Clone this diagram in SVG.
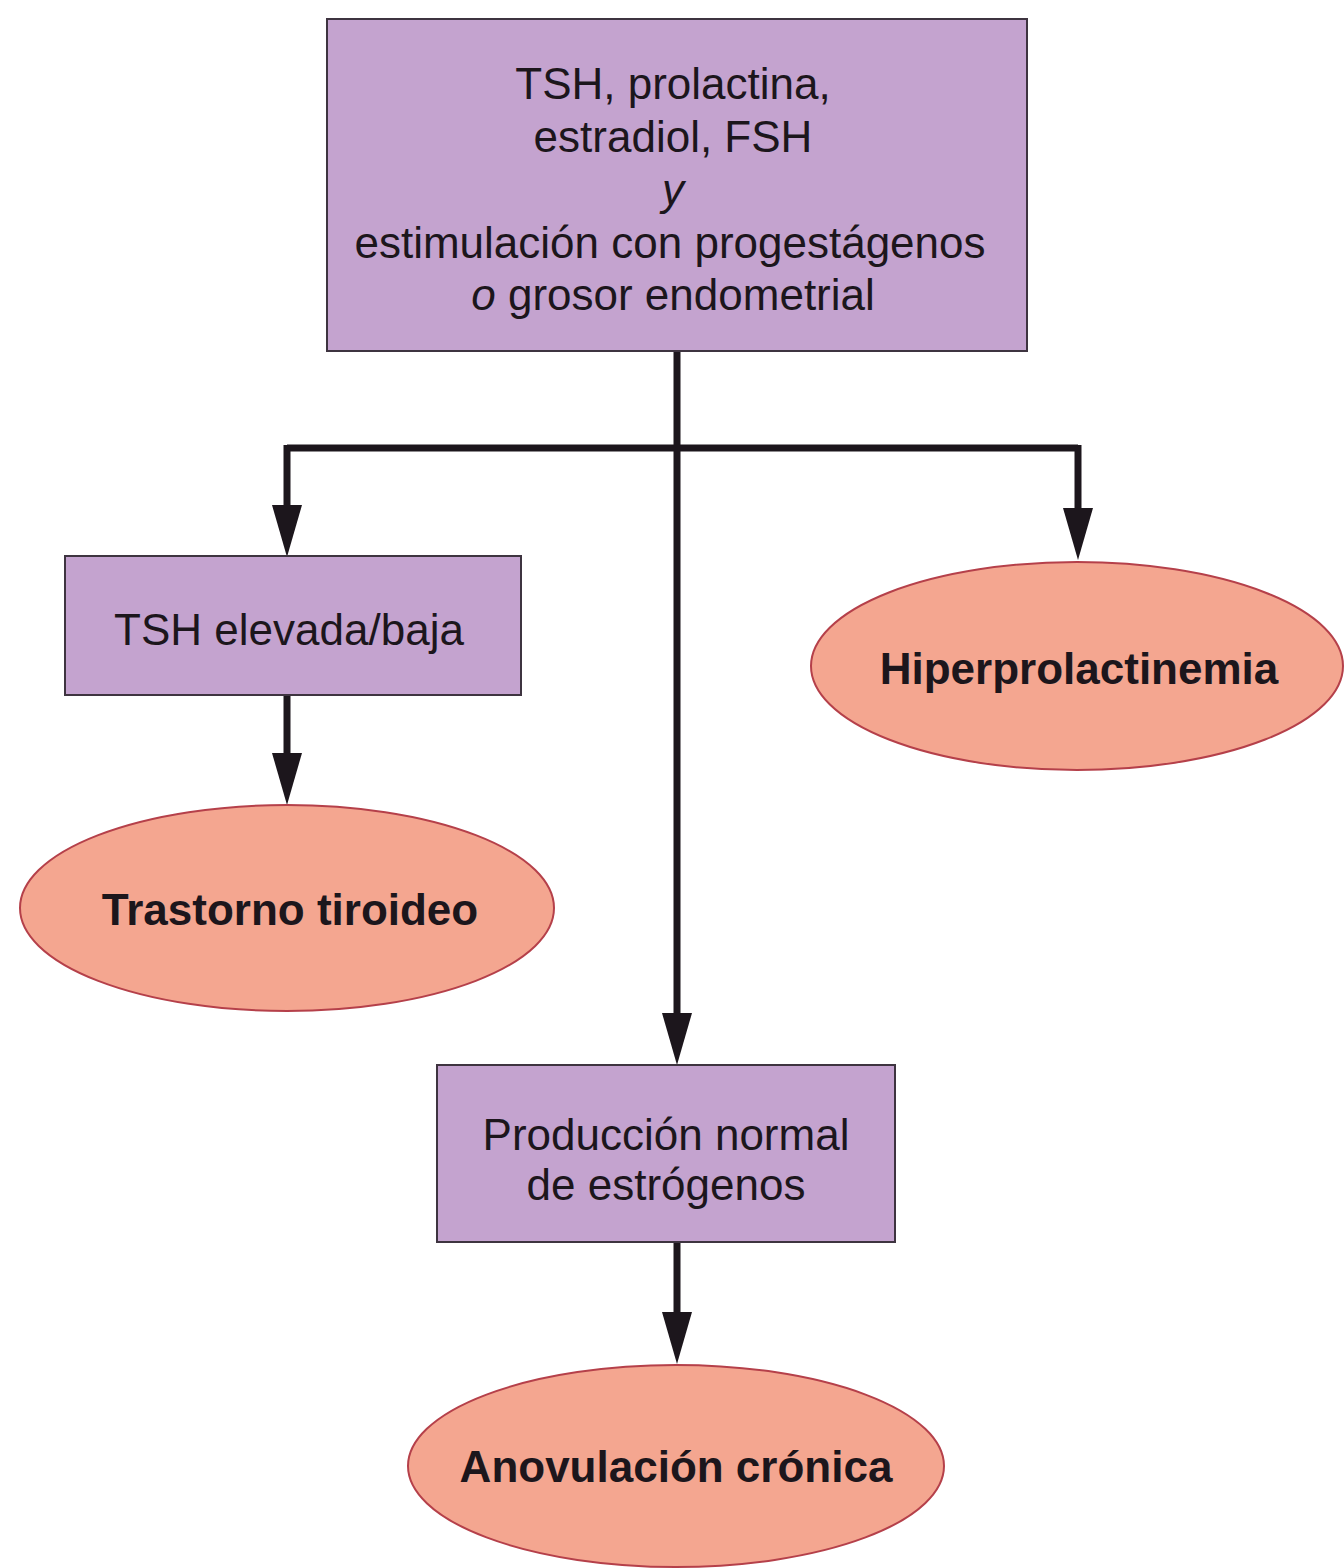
<svg xmlns="http://www.w3.org/2000/svg" width="1344" height="1568" viewBox="0 0 1344 1568">
<defs>
<style>
.box{fill:#C4A3CF;stroke:#3e3440;stroke-width:2}
.oval{fill:#F4A690;stroke:#B5404A;stroke-width:2}
.t{font-family:"Liberation Sans",Arial,sans-serif;font-size:44px;fill:#1c161c;text-anchor:middle}
.b{font-weight:bold}
.line{fill:none;stroke:#1c161c;stroke-width:7}
</style>
<marker id="ah" markerUnits="userSpaceOnUse" markerWidth="52" markerHeight="30" refX="15" refY="15" orient="auto" viewBox="0 0 52 30">
<path d="M0,0 L52,15 L0,30 Z" fill="#1c161c"/>
</marker>
</defs>
<rect width="1344" height="1568" fill="#ffffff"/>
<g id="connectors">
<path class="line" d="M677,351 L677,1028" marker-end="url(#ah)"/>
<path class="line" d="M287,448 L1078,448"/>
<path class="line" d="M287,445 L287,520" marker-end="url(#ah)"/>
<path class="line" d="M1078,445 L1078,523" marker-end="url(#ah)"/>
<path class="line" d="M287,695 L287,768" marker-end="url(#ah)"/>
<path class="line" d="M677,1242 L677,1327" marker-end="url(#ah)"/>
</g>
<g id="n-top">
<rect class="box" x="327" y="19" width="700" height="332"/>
<text class="t" x="673" y="99">TSH, prolactina,</text>
<text class="t" x="673" y="152">estradiol, FSH</text>
<text class="t" x="673" y="205" font-style="italic">y</text>
<text class="t" x="670" y="258">estimulación con progestágenos</text>
<text class="t" x="673" y="310"><tspan font-style="italic">o</tspan> grosor endometrial</text>
</g>
<g id="n-tsh">
<rect class="box" x="65" y="556" width="456" height="139"/>
<text class="t" x="289" y="645">TSH elevada/baja</text>
</g>
<g id="n-hiper">
<ellipse class="oval" cx="1077" cy="666" rx="266" ry="104"/>
<text class="t b" x="1079" y="684">Hiperprolactinemia</text>
</g>
<g id="n-tiroideo">
<ellipse class="oval" cx="287" cy="908" rx="267" ry="103"/>
<text class="t b" x="290" y="925">Trastorno tiroideo</text>
</g>
<g id="n-prod">
<rect class="box" x="437" y="1065" width="458" height="177"/>
<text class="t" x="666" y="1150">Producción normal</text>
<text class="t" x="666" y="1200">de estrógenos</text>
</g>
<g id="n-anov">
<ellipse class="oval" cx="676" cy="1466" rx="268" ry="101"/>
<text class="t b" x="676" y="1482">Anovulación crónica</text>
</g>
</svg>
